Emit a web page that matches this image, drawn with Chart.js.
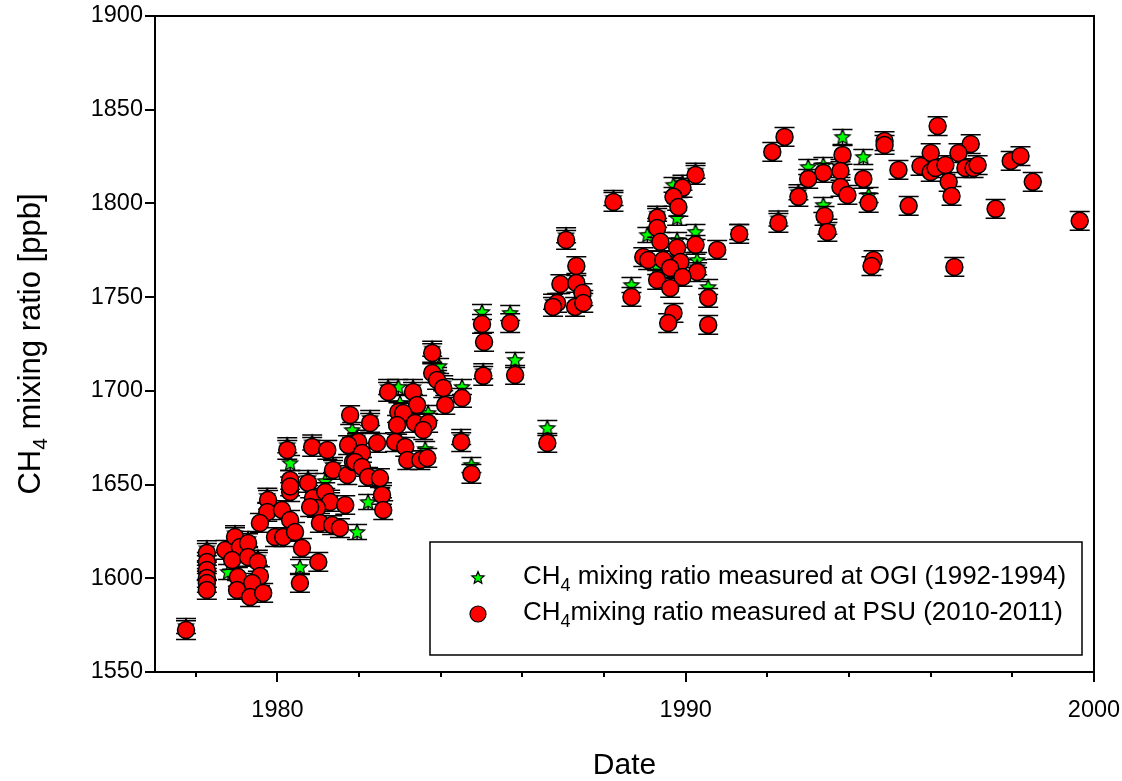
<!DOCTYPE html>
<html>
<head>
<meta charset="utf-8">
<script src="https://cdn.jsdelivr.net/npm/chart.js@4.4.0/dist/chart.umd.min.js"></script>
<style>
  html, body { margin: 0; padding: 0; background: #fff; }
  #wrap { width: 1122px; height: 781px; }
</style>
</head>
<body>
<div id="wrap"><canvas id="ch4Chart" width="1122" height="781"></canvas></div>
<script>
// PSU measurements (red circles)
const psuYear = [
  1977.76, 1978.27, 1978.27, 1978.27, 1978.27, 1978.27, 1978.27, 1978.72, 1978.96, 1979.08,
  1979.28, 1978.89, 1979.28, 1979.52, 1979.03, 1979.57, 1979.38, 1979.01, 1979.33, 1979.65,
  1979.77, 1979.75, 1979.57, 1980.24, 1980.31, 1980.31, 1980.11, 1980.31, 1979.94, 1980.14,
  1980.43, 1980.60, 1980.85, 1981.22, 1980.75, 1980.87, 1981.17, 1981.29, 1981.66, 1980.97,
  1981.04, 1981.34, 1981.53, 1980.55, 1981.00, 1981.36, 1981.71, 1981.85, 1981.95, 1981.78,
  1982.27, 1982.44, 1981.98, 1981.73, 1982.07, 1981.90, 1982.07, 1982.22, 1982.51, 1982.56,
  1982.59, 1980.80, 1980.31, 1982.71, 1983.32, 1983.42, 1982.96, 1983.08, 1982.93, 1983.37,
  1983.69, 1983.57, 1982.88, 1983.13, 1983.18, 1983.50, 1983.67, 1983.79, 1983.79, 1983.91,
  1984.06, 1984.11, 1984.52, 1984.50, 1984.75, 1985.01, 1985.06, 1985.04, 1985.70, 1985.82,
  1986.61, 1987.07, 1987.32, 1986.93, 1987.32, 1987.47, 1986.85, 1986.75, 1987.29, 1987.49,
  1988.23, 1988.67, 1990.24, 1989.92, 1989.70, 1989.82, 1989.30, 1989.30, 1989.38, 1989.79,
  1990.24, 1988.96, 1989.08, 1989.45, 1989.87, 1990.28, 1989.62, 1989.92, 1989.30, 1989.62,
  1989.70, 1989.57, 1990.55, 1990.55, 1990.77, 1991.31, 1992.27, 1992.42, 1992.12, 1993.84,
  1994.87, 1994.87, 1993.79, 1994.35, 1993.37, 1993.00, 1992.76, 1993.79, 1993.96, 1994.48,
  1993.40, 1993.47, 1994.60, 1994.55, 1995.21, 1996.17, 1996.98, 1996.68, 1996.00, 1995.75,
  1996.00, 1996.12, 1996.36, 1996.44, 1996.51, 1996.85, 1997.05, 1997.15, 1997.96, 1998.20,
  1998.50, 1995.46, 1997.59, 1999.65, 1996.58
];
const psuCH4 = [
  1572.4, 1613.5, 1608.7, 1604.4, 1600.2, 1597.5, 1593.8, 1615.1, 1622.0, 1616.7,
  1618.8, 1609.8, 1611.4, 1608.7, 1600.7, 1601.2, 1597.5, 1593.8, 1590.0, 1592.2,
  1641.8, 1635.4, 1629.5, 1668.5, 1652.5, 1646.0, 1636.4, 1631.1, 1622.0, 1622.0,
  1624.7, 1616.2, 1670.1, 1668.5, 1650.9, 1642.8, 1646.0, 1640.7, 1639.1, 1637.5,
  1629.5, 1628.4, 1626.8, 1597.5, 1608.7, 1657.8, 1655.1, 1662.1, 1672.2, 1687.1,
  1682.9, 1672.2, 1672.7, 1671.1, 1666.9, 1662.1, 1659.4, 1654.1, 1653.5, 1644.5,
  1636.4, 1638.0, 1649.0, 1699.4, 1699.4, 1692.5, 1688.7, 1688.2, 1681.8, 1682.9,
  1682.9, 1679.1, 1672.7, 1670.1, 1663.1, 1663.1, 1664.2, 1720.2, 1709.5, 1705.8,
  1701.5, 1692.5, 1696.2, 1672.7, 1655.7, 1735.7, 1726.1, 1708.0, 1736.2, 1708.5,
  1672.2, 1780.5, 1766.6, 1757.0, 1757.6, 1752.2, 1746.9, 1744.8, 1744.8, 1746.9,
  1800.8, 1750.1, 1815.2, 1808.3, 1803.5, 1798.1, 1792.3, 1786.9, 1779.5, 1776.3,
  1777.9, 1771.4, 1769.8, 1769.8, 1768.8, 1763.4, 1765.6, 1760.8, 1759.2, 1754.9,
  1741.6, 1736.2, 1749.6, 1735.2, 1775.2, 1783.7, 1789.6, 1835.5, 1827.5, 1825.9,
  1833.3, 1831.2, 1817.3, 1813.1, 1816.3, 1813.1, 1803.5, 1808.8, 1804.5, 1800.3,
  1793.3, 1784.8, 1769.8, 1766.6, 1817.9, 1841.3, 1831.7, 1826.9, 1826.9, 1820.0,
  1816.8, 1818.9, 1820.5, 1811.5, 1804.0, 1818.9, 1818.9, 1820.5, 1822.7, 1825.3,
  1811.5, 1798.7, 1797.1, 1790.7, 1766.1
];

// OGI measurements (green stars)
const ogiYear = [
  1978.79, 1980.31, 1981.17, 1981.95, 1980.55, 1982.22, 1981.83, 1982.96, 1983.00, 1983.69,
  1983.96, 1984.52, 1984.50, 1984.75, 1985.01, 1985.70, 1985.82, 1986.61, 1988.67, 1988.23,
  1989.79, 1990.24, 1989.06, 1989.79, 1989.30, 1990.55, 1990.28, 1993.84, 1994.35, 1993.00,
  1993.37, 1994.48, 1993.37, 1989.70, 1991.31, 1982.93, 1983.62,
  1977.76, 1978.27, 1978.27, 1978.96, 1979.28, 1979.52, 1979.75, 1980.24, 1980.85, 1980.75,
  1981.36, 1981.95, 1982.27, 1982.71, 1983.32, 1983.79, 1983.91, 1985.04, 1986.75, 1987.07,
  1987.49, 1989.30, 1989.92, 1990.24, 1989.62, 1990.28, 1993.79, 1992.76, 1993.47, 1992.27,
  1984.06, 1982.56, 1981.29
];
const ogiCH4 = [
  1603.4, 1661.5, 1651.9, 1624.7, 1606.0, 1640.7, 1679.1, 1702.1, 1693.5, 1688.2,
  1713.3, 1702.1, 1675.4, 1660.5, 1742.1, 1741.6, 1716.5, 1680.2, 1756.5, 1802.9,
  1792.3, 1784.8, 1783.2, 1780.5, 1766.1, 1755.4, 1769.8, 1835.5, 1824.8, 1819.5,
  1820.5, 1804.5, 1799.2, 1809.9, 1784.8, 1679.1, 1669.0,
  1574.5, 1616.0, 1603.0, 1624.0, 1621.0, 1611.0, 1644.0, 1671.0, 1672.5, 1653.5,
  1660.5, 1675.0, 1685.5, 1702.0, 1702.0, 1722.5, 1708.5, 1710.5, 1747.5, 1783.0,
  1749.5, 1794.5, 1811.0, 1817.5, 1768.0, 1766.0, 1819.5, 1806.0, 1787.5, 1792.0,
  1704.0, 1647.0, 1643.0
];

const psuErr = 5;
const ogiErr = 4;

const xTicks = [1980, 1990, 2000];
const xMinorTicks = [1978, 1982, 1984, 1986, 1988, 1992, 1994, 1996, 1998];
const yTicks = [1550, 1600, 1650, 1700, 1750, 1800, 1850, 1900];

const FONT = '"Liberation Sans", Arial, sans-serif';

function makeStar(r) {
  const c = document.createElement("canvas");
  const size = Math.ceil(r * 2 + 4);
  c.width = size;
  c.height = size;
  const g = c.getContext("2d");
  drawStar(g, size / 2, size / 2 + 0.5, r);
  return c;
}

function drawStar(g, cx, cy, r) {
  g.beginPath();
  for (let i = 0; i < 10; i++) {
    const rad = i % 2 === 0 ? r : r * 0.45;
    const a = -Math.PI / 2 + i * Math.PI / 5;
    const px = cx + rad * Math.cos(a);
    const py = cy + rad * Math.sin(a);
    if (i === 0) g.moveTo(px, py); else g.lineTo(px, py);
  }
  g.closePath();
  g.fillStyle = "#00ff00";
  g.fill();
  g.lineWidth = 1.2;
  g.strokeStyle = "#000";
  g.stroke();
}

// draws text with a subscript "4" piece
function drawParts(ctx, x, y, parts, size) {
  let cx = x;
  parts.forEach(([txt, sub]) => {
    ctx.font = (sub ? Math.round(size * 0.68) : size) + "px " + FONT;
    ctx.fillText(txt, cx, y + (sub ? size * 0.34 : 0));
    cx += ctx.measureText(txt).width;
  });
}

function partsWidth(ctx, parts, size) {
  let w = 0;
  parts.forEach(([txt, sub]) => {
    ctx.font = (sub ? Math.round(size * 0.68) : size) + "px " + FONT;
    w += ctx.measureText(txt).width;
  });
  return w;
}

const errorBars = {
  id: "errorBars",
  beforeDatasetDraw(chart, args) {
    const ds = chart.data.datasets[args.index];
    const ys = chart.scales.y;
    const ctx = chart.ctx;
    ctx.save();
    ctx.strokeStyle = "#000";
    ctx.lineWidth = 1.5;
    args.meta.data.forEach((el, i) => {
      const v = ds.data[i].y;
      const top = ys.getPixelForValue(v + ds.errValue);
      const bot = ys.getPixelForValue(v - ds.errValue);
      ctx.beginPath();
      ctx.moveTo(el.x, top); ctx.lineTo(el.x, bot);
      ctx.moveTo(el.x - 10, top); ctx.lineTo(el.x + 10, top);
      ctx.moveTo(el.x - 10, bot); ctx.lineTo(el.x + 10, bot);
      ctx.stroke();
    });
    ctx.restore();
  }
};

const frameAndExtras = {
  id: "frameAndExtras",
  afterDraw(chart) {
    const { ctx, chartArea: a, scales: { x, y } } = chart;
    ctx.save();
    ctx.strokeStyle = "#000";
    ctx.lineWidth = 2;
    ctx.beginPath();
    ctx.moveTo(a.left - 10, a.top); ctx.lineTo(a.right, a.top); ctx.lineTo(a.right, a.bottom);
    yTicks.forEach(v => {
      const py = Math.round(y.getPixelForValue(v));
      ctx.moveTo(a.left - 10, py); ctx.lineTo(a.left, py);
    });
    xTicks.forEach(v => {
      const px = Math.round(x.getPixelForValue(v));
      ctx.moveTo(px, a.bottom); ctx.lineTo(px, a.bottom + 10);
    });
    xMinorTicks.forEach(v => {
      const px = Math.round(x.getPixelForValue(v));
      ctx.moveTo(px, a.bottom); ctx.lineTo(px, a.bottom + 5);
    });
    ctx.stroke();

    // y axis title
    ctx.fillStyle = "#000";
    ctx.textBaseline = "middle";
    ctx.textAlign = "left";
    const yTitle = [["CH", false], ["4", true], [" mixing ratio [ppb]", false]];
    ctx.translate(31, (a.top + a.bottom) / 2);
    ctx.rotate(-Math.PI / 2);
    const tw = partsWidth(ctx, yTitle, 31);
    drawParts(ctx, -tw / 2, 0, yTitle, 31);
    ctx.restore();

    // legend
    ctx.save();
    ctx.strokeStyle = "#000";
    ctx.lineWidth = 1.5;
    ctx.fillStyle = "#fff";
    ctx.fillRect(430, 542, 652, 113);
    ctx.strokeRect(430, 542, 652, 113);
    drawStar(ctx, 478, 578, 6.5);
    ctx.beginPath();
    ctx.arc(478, 614, 8, 0, Math.PI * 2);
    ctx.fillStyle = "#ff0000";
    ctx.fill();
    ctx.stroke();
    ctx.fillStyle = "#000";
    ctx.textBaseline = "middle";
    ctx.textAlign = "left";
    drawParts(ctx, 523, 577, [["CH", false], ["4", true], [" mixing ratio measured at OGI (1992-1994)", false]], 26);
    drawParts(ctx, 523, 613, [["CH", false], ["4", true], ["mixing ratio measured at PSU (2010-2011)", false]], 26);
    ctx.restore();
  }
};

const ctx = document.getElementById("ch4Chart");
new Chart(ctx, {
  type: "scatter",
  data: {
    datasets: [
      {
        label: "CH4 mixing ratio measured at OGI (1992-1994)",
        data: ogiYear.map((yr, i) => ({ x: yr, y: ogiCH4[i] })),
        pointStyle: makeStar(8),
        errValue: ogiErr,
        order: 1,
      },
      {
        label: "CH4mixing ratio measured at PSU (2010-2011)",
        data: psuYear.map((yr, i) => ({ x: yr, y: psuCH4[i] })),
        pointStyle: "circle",
        pointRadius: 8.5,
        pointBackgroundColor: "#ff0000",
        pointBorderColor: "#000",
        pointBorderWidth: 1.5,
        errValue: psuErr,
        order: 0,
      },
    ],
  },
  options: {
    responsive: false,
    animation: false,
    layout: { padding: { top: 16, right: 28, left: 0, bottom: 0 } },
    plugins: {
      legend: { display: false },
      tooltip: { enabled: false },
    },
    scales: {
      x: {
        type: "linear",
        position: "bottom",
        min: 1977,
        max: 2000,
        grid: { display: false, drawTicks: false },
        border: { display: true, color: "#000", width: 2 },
        afterBuildTicks: s => { s.ticks = xTicks.map(v => ({ value: v })); },
        afterFit: s => { s.height = 109; s.paddingLeft = 0; s.paddingRight = 0; },
        ticks: {
          color: "#000",
          font: { family: FONT, size: 23.5 },
          padding: 24,
          maxRotation: 0,
          autoSkip: false,
          callback: v => String(v),
        },
        title: {
          display: true,
          text: "Date",
          color: "#000",
          font: { family: FONT, size: 30, lineHeight: 1.0 },
          padding: { top: 0, bottom: 0 },
        },
      },
      y: {
        min: 1550,
        max: 1900,
        grid: { display: false, drawTicks: false },
        border: { display: true, color: "#000", width: 2 },
        afterBuildTicks: s => { s.ticks = yTicks.map(v => ({ value: v })); },
        afterFit: s => { s.width = 155; s.paddingTop = 0; s.paddingBottom = 0; },
        ticks: {
          color: "#000",
          font: { family: FONT, size: 23.5 },
          padding: 12,
          callback: v => String(v),
        },
      },
    },
  },
  plugins: [errorBars, frameAndExtras],
});
</script>
</body>
</html>
